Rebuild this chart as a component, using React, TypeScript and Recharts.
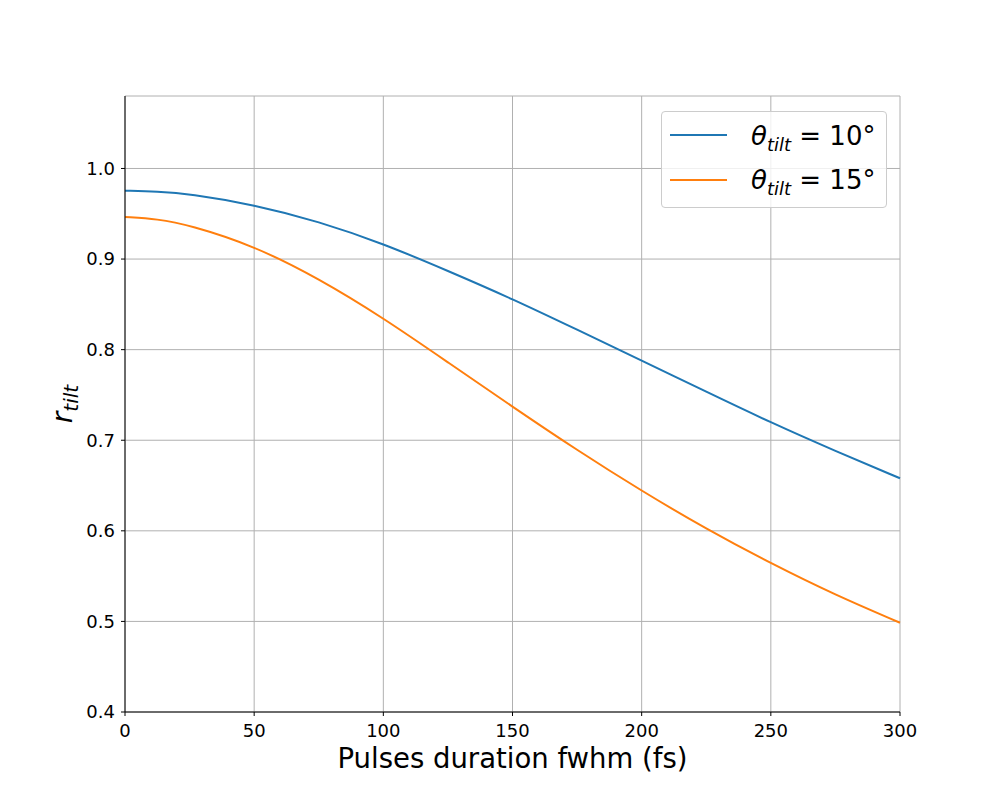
import { CartesianGrid, Label, Line, LineChart, XAxis, YAxis } from "recharts";

// Pulse duration (fs) and tilt ratio
const durations = [0, 12.5, 25, 50, 75, 100, 125, 150, 175, 200, 225, 250, 275, 300];
const rTilt10 = [0.9755, 0.9746, 0.972, 0.96, 0.9415, 0.917, 0.887, 0.856, 0.822, 0.788, 0.7535, 0.7195, 0.688, 0.658];
const rTilt15 = [0.9465, 0.9443, 0.9375, 0.9146, 0.8785, 0.835, 0.786, 0.737, 0.689, 0.644, 0.602, 0.564, 0.529, 0.4985];

const angles = ["10°", "15°"];
const colors = ["#1f77b4", "#ff7f0e"];
const xTicks = [0, 50, 100, 150, 200, 250, 300];
const yTicks = [0.4, 0.5, 0.6, 0.7, 0.8, 0.9, 1.0];

const data = durations.map((d, i) => ({ d, a: rTilt10[i], b: rTilt15[i] }));
const keys = ["a", "b"];

const FONT = "DejaVu Sans";

function YLabel({ viewBox }: any) {
  const cx = viewBox.x + 7;
  const cy = viewBox.y + viewBox.height / 2;
  return (
    <text transform={`translate(${cx},${cy}) rotate(-90)`} textAnchor="middle" fontFamily={FONT} fontSize={28} fill="#000">
      <tspan fontStyle="italic">r</tspan>
      <tspan fontStyle="italic" fontSize={20} dy={6}>tilt</tspan>
    </text>
  );
}

function XLabel({ viewBox }: any) {
  return (
    <text x={viewBox.x + viewBox.width / 2} y={viewBox.y + 56} textAnchor="middle" fontFamily={FONT} fontSize={27.5} fill="#000">
      Pulses duration fwhm (fs)
    </text>
  );
}

function LegendBox() {
  return (
    <div
      style={{
        position: "absolute",
        left: 661,
        top: 111,
        width: 224,
        height: 95,
        border: "1px solid #cccccc",
        borderRadius: 4,
        background: "rgba(255,255,255,0.8)",
      }}
    >
      <svg width={224} height={95}>
        {angles.map((a, i) => (
          <g key={a}>
            <line x1={8} x2={65} y1={23 + i * 45} y2={23 + i * 45} stroke={colors[i]} strokeWidth={2} />
            <text x={89} y={33 + i * 44} fontFamily={FONT} fontSize={26} fill="#000">
              <tspan fontStyle="italic">θ</tspan>
              <tspan fontStyle="italic" fontSize={18} dy={6}>tilt</tspan>
              <tspan dy={-6}>{` = ${a}`}</tspan>
            </text>
          </g>
        ))}
      </svg>
    </div>
  );
}

export default function App() {
  return (
    <div style={{ position: "absolute", left: 0, top: 0, width: 1000, height: 800, background: "#fff" }}>
      <LineChart width={1000} height={800} data={data} margin={{ top: 96, right: 100, bottom: 28, left: 65 }}>
        <CartesianGrid stroke="#b0b0b0" strokeWidth={1} />
        <XAxis
          dataKey="d"
          type="number"
          domain={[0, 300]}
          ticks={xTicks}
          height={60}
          tickSize={4}
          tickMargin={8}
          stroke="#000"
          tick={{ fill: "#000", fontSize: 18, fontFamily: FONT }}
        >
          <Label content={XLabel} />
        </XAxis>
        <XAxis xAxisId="top" orientation="top" dataKey="d" type="number" domain={[0, 300]} height={0} tick={false} tickLine={false} stroke="#000" />
        <YAxis
          type="number"
          domain={[0.4, 1.08]}
          ticks={yTicks}
          allowDataOverflow
          width={60}
          tickSize={4}
          tickMargin={6}
          stroke="#000"
          tickFormatter={(v: number) => v.toFixed(1)}
          tick={{ fill: "#000", fontSize: 18, fontFamily: FONT }}
        >
          <Label content={YLabel} />
        </YAxis>
        <YAxis yAxisId="right" orientation="right" type="number" domain={[0.4, 1.08]} width={0} tick={false} tickLine={false} stroke="#000" />
        {keys.map((k, i) => (
          <Line key={k} dataKey={k} type="basis" stroke={colors[i]} strokeWidth={2} dot={false} isAnimationActive={false} />
        ))}
      </LineChart>
      <LegendBox />
    </div>
  );
}
